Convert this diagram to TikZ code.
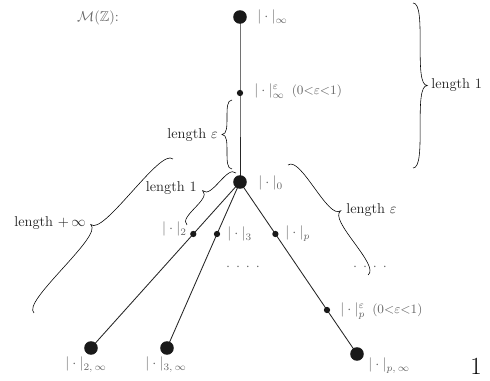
\documentclass[tikz,border=0pt]{standalone}
\usepackage{amssymb}
\usetikzlibrary{calc,backgrounds}
\begin{document}
\begin{tikzpicture}[x=0.7pt,y=-0.7pt,
 bigdot/.style={circle,fill=black!90,inner sep=0pt,minimum size=9.5pt},
 smalldot/.style={circle,fill=black!90,inner sep=0pt,minimum size=4.4pt},
 edge/.style={line width=0.6pt,black!85},
 lab/.style={text=black!60,inner sep=0pt},
 blab/.style={text=black!85,inner sep=0pt},
 curly/.style 2 args={line width=0.6pt,black!90,to path={
 .. controls ($(\tikztostart)!#2!90:(\tikztotarget)$) and ($(\tikztostart)!0.12!(\tikztotarget)!#2!90:(\tikztotarget)$)
 .. ($(\tikztostart)!0.25!(\tikztotarget)!#2!90:(\tikztotarget)$)
 .. controls ($(\tikztostart)!0.38!(\tikztotarget)!#2!90:(\tikztotarget)$) and ($(\tikztostart)!0.5!(\tikztotarget)!#2!90:(\tikztotarget)$)
 .. ($(\tikztostart)!0.5!(\tikztotarget)!#1!90:(\tikztotarget)$)
 .. controls ($(\tikztostart)!0.5!(\tikztotarget)!#2!90:(\tikztotarget)$) and ($(\tikztostart)!0.62!(\tikztotarget)!#2!90:(\tikztotarget)$)
 .. ($(\tikztostart)!0.75!(\tikztotarget)!#2!90:(\tikztotarget)$)
 .. controls ($(\tikztostart)!0.88!(\tikztotarget)!#2!90:(\tikztotarget)$) and ($(\tikztotarget)!#2!-90:(\tikztostart)$)
 .. (\tikztotarget)}}
]
\useasboundingbox (0,0) rectangle (490,381);

% vertices
\node[bigdot] (ninf) at (240,17) {};
\node[smalldot] (neps) at (240,93) {};
\node[bigdot] (nzero) at (240,182) {};
\node[smalldot] (ntwo) at (193.3,234) {};
\node[smalldot] (nthree) at (217,234) {};
\node[smalldot] (np) at (275.4,234) {};
\node[smalldot] (npeps) at (327,310) {};
\node[bigdot] (ntwoinf) at (91,348) {};
\node[bigdot] (nthreeinf) at (167,348) {};
\node[bigdot] (npinf) at (357,354) {};

\begin{pgfonlayer}{background}
\draw[edge] (ninf.center) -- (neps.center) -- (nzero.center);
\draw[edge] (nzero.center) -- (ntwo.center) -- (ntwoinf.center);
\draw[edge] (nzero.center) -- (nthree.center) -- (nthreeinf.center);
\draw[edge] (nzero.center) -- (np.center) -- (npeps.center) -- (npinf.center);
\end{pgfonlayer}

% vertex labels
\node[lab,anchor=center] (title) at (98,18) {$\mathcal{M}(\mathbb{Z})$:};
\node[lab,anchor=base west] (linf) at (257,21) {$|\cdot|_\infty$};
\node[lab,anchor=base west] (leps) at (254,95) {$|\cdot|^{\varepsilon}_{\infty}$\enspace{\small$(0{<}\varepsilon{<}1)$}};
\node[lab,anchor=base west] (lzero) at (258,187) {$|\cdot|_0$};
\node[lab,anchor=base east] (ltwo) at (187,233) {$|\cdot|_2$};
\node[lab,anchor=base west] (lthree) at (227,238) {$|\cdot|_3$};
\node[lab,anchor=base west] (lp) at (285,237) {$|\cdot|_p$};
\node[lab,anchor=base west] (lpeps) at (340,314) {$|\cdot|^{\varepsilon}_{p}$\enspace{\small$(0{<}\varepsilon{<}1)$}};
\node[lab,anchor=base west] (ltwoinf) at (65,368) {$|\cdot|_{2,\,\infty}$};
\node[lab,anchor=base west] (lthreeinf) at (145,368) {$|\cdot|_{3,\,\infty}$};
\node[lab,anchor=base west] (lpinf) at (368,369) {$|\cdot|_{p,\,\infty}$};
\node[lab] (dotsa) at (243,267) {${\cdot}\mkern7.5mu{\cdot}\mkern7.5mu{\cdot}\mkern7.5mu{\cdot}$};
\node[lab] (dotsb) at (370,267) {${\cdot}\mkern7.5mu{\cdot}\mkern7.5mu{\cdot}\mkern7.5mu{\cdot}$};
\node[anchor=center] (page) at (476,366) {\LARGE 1};

% braces
\coordinate (ba1) at (413,3);   \coordinate (ba2) at (413,168);
\coordinate (bb1) at (232,169); \coordinate (bb2) at (232,100);
\coordinate (bc1) at (187,225); \coordinate (bc2) at (236,173);
\coordinate (bd1) at (34,313);  \coordinate (bd2) at (173,159);
\coordinate (be1) at (288,165); \coordinate (be2) at (368,275);
\draw (ba1) to[curly={10pt}{5pt}] (ba2);
\draw (bb1) to[curly={7pt}{3.5pt}] (bb2);
\draw (bc1) to[curly={8.5pt}{4.2pt}] (bc2);
\draw (bd1) to[curly={12pt}{6pt}] (bd2);
\draw (be1) to[curly={11pt}{5.5pt}] (be2);

\node[blab,anchor=west] (ta) at (431,85) {length 1};
\node[blab,anchor=east] (tb) at (218,135) {length $\varepsilon$};
\node[blab,anchor=east] (tc) at (197,188) {length 1};
\node[blab,anchor=east] (td) at (86,223) {length $+\,\infty$};
\node[blab,anchor=west] (te) at (346,210) {length $\varepsilon$};
\end{tikzpicture}
\end{document}
